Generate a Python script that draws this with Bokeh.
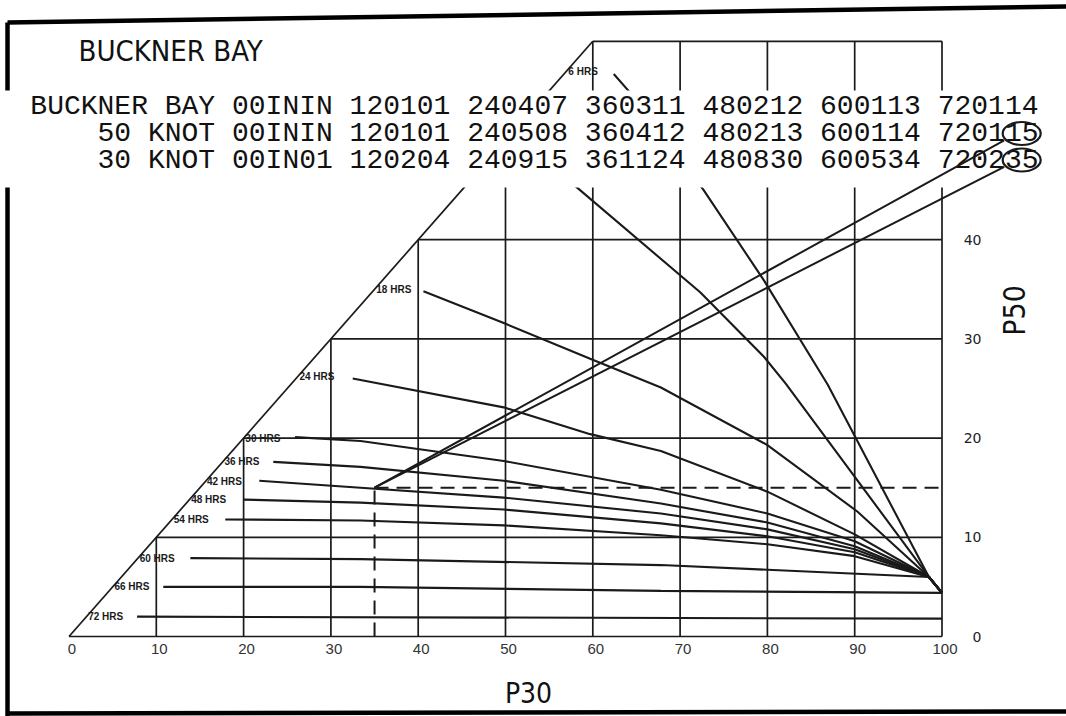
from bokeh.plotting import figure
from bokeh.models import Range1d
from bokeh.core.properties import value
from bokeh.embed import file_html
from bokeh.resources import INLINE

# ---------------- data ----------------
TITLE = "BUCKNER BAY"
TABLE_ROWS = [
    "BUCKNER BAY 00ININ 120101 240407 360311 480212 600113 720114",
    "50 KNOT 00ININ 120101 240508 360412 480213 600114 720115",
    "30 KNOT 00IN01 120204 240915 361124 480830 600534 720235",
]
CIRCLED_ROWS = [1, 2]          # rows whose last two digits are circled ("15", "35")
P30_TICKS = [0, 10, 20, 30, 40, 50, 60, 70, 80, 90, 100]
P50_TICKS = [0, 10, 20, 30, 40]
P50_GRID = [10, 20, 30, 40, 50, 60]
P50_MAX = 60
P30_MAX = 100
X_LABEL = "P30"
Y_LABEL = "P50"

# isochrones (P30, P50)
h6_p30 = [62.4, 64.5, 72.7, 79.6, 86.9, 98.5, 100.0]
h6_p50 = [56.7, 54.6, 45.0, 35.9, 25.4, 6.0, 4.4]
h12_p30 = [54.0, 58.0, 72.3, 79.6, 82.1, 98.5, 100.0]
h12_p50 = [48.0, 45.4, 34.7, 28.2, 25.5, 6.0, 4.4]
h18_p30 = [40.6, 49.8, 59.7, 67.8, 80.0, 90.3, 98.5, 100.0]
h18_p50 = [34.8, 31.6, 28.0, 25.1, 19.3, 12.6, 6.0, 4.4]
h24_p30 = [32.5, 49.8, 59.7, 67.8, 80.0, 90.0, 98.5, 100.0]
h24_p50 = [26.0, 23.1, 20.4, 18.7, 14.6, 10.3, 6.0, 4.4]
h30_p30 = [25.9, 33.4, 49.8, 67.8, 80.0, 90.0, 98.5, 100.0]
h30_p50 = [20.1, 19.7, 17.7, 14.8, 12.4, 9.6, 6.0, 4.4]
h36_p30 = [23.4, 33.4, 49.8, 67.8, 80.0, 90.0, 98.5, 100.0]
h36_p50 = [17.6, 17.1, 15.7, 13.4, 11.5, 9.1, 6.0, 4.4]
h42_p30 = [21.8, 33.4, 49.8, 67.8, 80.0, 90.0, 98.5, 100.0]
h42_p50 = [15.7, 15.0, 14.0, 12.4, 10.8, 8.8, 6.0, 4.4]
h48_p30 = [20.0, 33.4, 49.8, 67.8, 80.0, 90.0, 98.5, 100.0]
h48_p50 = [13.8, 13.5, 12.8, 11.4, 10.1, 8.5, 6.0, 4.4]
h54_p30 = [17.9, 33.4, 49.8, 67.8, 80.0, 90.0, 98.5, 100.0]
h54_p50 = [11.8, 11.7, 11.2, 10.2, 9.3, 8.1, 6.0, 4.4]
h60_p30 = [13.9, 33.4, 67.8, 98.5, 100.0]
h60_p50 = [7.9, 7.8, 7.2, 6.0, 4.4]
h66_p30 = [10.8, 33.4, 67.8, 100.0]
h66_p50 = [5.0, 5.0, 4.6, 4.4]
h72_p30 = [7.8, 100.0]
h72_p50 = [2.0, 1.8]

LABEL_HOURS = [6, 18, 24, 30, 36, 42, 48, 54, 60, 66, 72]
LABEL_P50 = [57.0, 35.0, 26.2, 20.0, 17.6, 15.6, 13.8, 11.8, 7.9, 5.0, 2.0]

SEL_P30 = 35
SEL_P50 = 15

# ---------------- layout ----------------
W, H = 1066, 716
OX, OY = 68.5, 636.0        # pixel of P30=0, P50=0
SX, SY = 8.73, 9.92         # pixels per unit


def X(px):
    return (px - OX) / SX


def Y(py):
    return (OY - py) / SY


INK = "#1a1a1a"
NARROW = value("'DejaVu Sans Condensed', 'Liberation Sans Narrow', 'Open Sans Condensed', "
               "'Roboto Condensed', 'Arial Narrow', 'Liberation Sans', sans-serif")

p = figure(width=W, height=H, title=None,
           x_range=Range1d(X(0), X(W)), y_range=Range1d(Y(H), Y(0)),
           output_backend="svg", toolbar_location=None,
           x_axis_location=None, y_axis_location=None,
           min_border=0, min_border_left=0, min_border_right=0,
           min_border_top=0, min_border_bottom=0,
           background_fill_color="white", border_fill_color="white",
           outline_line_color=None)
p.grid.visible = False

# scanned page border (left, top, bottom)
p.multi_line([[X(7), X(7)], [X(7), X(W)], [X(7), X(W)]],
             [[Y(W), Y(22)], [Y(22), Y(6)], [Y(713), Y(711)]],
             line_color="black", line_width=4.5)

# grid: horizontal lines from the diagonal to P30=100
gx = [[v, P30_MAX] for v in P50_GRID]
gy = [[v, v] for v in P50_GRID]
# vertical lines from 0 up to the diagonal / top
for t in P30_TICKS[1:]:
    gx.append([t, t])
    gy.append([0, min(t, P50_MAX)])
gx.append([0, P30_MAX]); gy.append([0, 0])          # base line
gx.append([0, P50_MAX]); gy.append([0, P50_MAX])    # diagonal P50 = P30
p.multi_line(gx, gy, line_color=INK, line_width=1.7)

# isochrones
cx = [h6_p30, h12_p30, h18_p30, h24_p30, h30_p30, h36_p30, h42_p30,
      h48_p30, h54_p30, h60_p30, h66_p30, h72_p30]
cy = [h6_p50, h12_p50, h18_p50, h24_p50, h30_p50, h36_p50, h42_p50,
      h48_p50, h54_p50, h60_p50, h66_p50, h72_p50]
p.multi_line(cx, cy, line_color=INK, line_width=2.1)

# dashed guides to the selected point
p.line([SEL_P30, SEL_P30], [0, SEL_P50], line_color=INK, line_width=2, line_dash="14 8")
p.line([SEL_P30, P30_MAX], [SEL_P50, SEL_P50], line_color=INK, line_width=2, line_dash="14 8")

# iso labels on the diagonal
p.text(x=[v + 0.2 for v in LABEL_P50], y=LABEL_P50,
       text=[f"{h} HRS" for h in LABEL_HOURS],
       text_font=value("Liberation Sans"), text_font_style="bold",
       text_font_size="10px", text_align="left", text_baseline="middle",
       text_color=INK)

# white band behind the table rows
p.quad(left=[X(0)], right=[X(W)], bottom=[Y(187)], top=[Y(90)],
       fill_color="white", line_color=None)

# table rows
ROW_RIGHT = X(1038)
ROW_MID = [Y(106), Y(133), Y(159.5)]
ROW_FS = 28
p.text(x=[ROW_RIGHT] * 3, y=ROW_MID, text=TABLE_ROWS,
       text_font=value("Liberation Mono"), text_font_size=f"{ROW_FS}px",
       text_align="right", text_baseline="middle", text_color="#111111")

# circles around the last two digits + lines from the selected point
char_w = 0.6 * ROW_FS / SX
ell_x = [ROW_RIGHT - char_w for _ in CIRCLED_ROWS]
ell_y = [ROW_MID[r] for r in CIRCLED_ROWS]
ell_w, ell_h = 38 / SX, 23 / SY
p.ellipse(x=ell_x, y=ell_y, width=ell_w, height=ell_h,
          fill_color=None, line_color=INK, line_width=2.2)
lx = [[SEL_P30, ex - 0.46 * ell_w] for ex in ell_x]
ly = [[SEL_P50, ey - 0.3 * ell_h] for ey in ell_y]
p.multi_line(lx, ly, line_color=INK, line_width=2)

# title
p.text(x=[X(78)], y=[Y(50)], text=[TITLE], text_font=NARROW,
       text_font_size="29px", text_align="left", text_baseline="middle",
       text_color="#111111")

# tick labels
p.text(x=[t + 3 / SX for t in P30_TICKS], y=[Y(643)] * len(P30_TICKS),
       text=[str(t) for t in P30_TICKS], text_font=value("Liberation Sans"),
       text_font_size="15px", text_align="center", text_baseline="top",
       text_color="#333333")
p.text(x=[X(981)] * len(P50_TICKS), y=P50_TICKS,
       text=[str(t) for t in P50_TICKS], text_font=value("DejaVu Sans"),
       text_font_size="14px", text_align="right", text_baseline="middle",
       text_color="#222222")

# axis labels
p.text(x=[X(528)], y=[Y(693)], text=[X_LABEL], text_font=NARROW,
       text_font_size="28px", text_align="center", text_baseline="middle",
       text_color="#111111")
p.text(x=[X(1014)], y=[Y(310)], text=[Y_LABEL], text_font=NARROW,
       text_font_size="30px", text_align="center", text_baseline="middle",
       angle=1.5708, text_color="#111111")

open("out.html", "w").write(file_html(p, INLINE))
